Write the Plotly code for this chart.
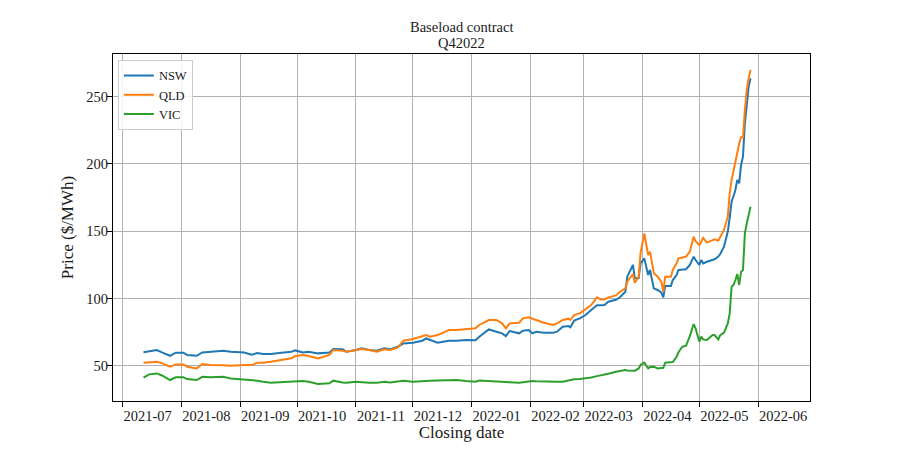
import plotly.graph_objects as go

dates = [
    "2021-07-12", "2021-07-15", "2021-07-19", "2021-07-22", "2021-07-26", "2021-07-29",
    "2021-08-02", "2021-08-04", "2021-08-09", "2021-08-12", "2021-08-16", "2021-08-23", "2021-08-27",
    "2021-09-03", "2021-09-07", "2021-09-10", "2021-09-13", "2021-09-17", "2021-09-24", "2021-09-28", "2021-09-30",
    "2021-10-04", "2021-10-07", "2021-10-12", "2021-10-18", "2021-10-20", "2021-10-25", "2021-10-27",
    "2021-11-01", "2021-11-04", "2021-11-08", "2021-11-12", "2021-11-16", "2021-11-19", "2021-11-23", "2021-11-26",
    "2021-12-01", "2021-12-06", "2021-12-08", "2021-12-10", "2021-12-14", "2021-12-17", "2021-12-20", "2021-12-24", "2021-12-29",
    "2022-01-03", "2022-01-05", "2022-01-10", "2022-01-14", "2022-01-17", "2022-01-19", "2022-01-21", "2022-01-26", "2022-01-28", "2022-01-31",
    "2022-02-02", "2022-02-04", "2022-02-08", "2022-02-13", "2022-02-15", "2022-02-18", "2022-02-21", "2022-02-22", "2022-02-24", "2022-02-27",
    "2022-03-02", "2022-03-05", "2022-03-08", "2022-03-10", "2022-03-12", "2022-03-14", "2022-03-18", "2022-03-20", "2022-03-23", "2022-03-24",
    "2022-03-27", "2022-03-28", "2022-03-30", "2022-03-31",
    "2022-04-02", "2022-04-04", "2022-04-05", "2022-04-07", "2022-04-09", "2022-04-11", "2022-04-12", "2022-04-13", "2022-04-16", "2022-04-17",
    "2022-04-19", "2022-04-20", "2022-04-22", "2022-04-24", "2022-04-26", "2022-04-28", "2022-04-29",
    "2022-05-01", "2022-05-02", "2022-05-03", "2022-05-05", "2022-05-08", "2022-05-09", "2022-05-11", "2022-05-12", "2022-05-14", "2022-05-16",
    "2022-05-17", "2022-05-18", "2022-05-19", "2022-05-20", "2022-05-21", "2022-05-22", "2022-05-23", "2022-05-24", "2022-05-25", "2022-05-26",
    "2022-05-27", "2022-05-28",
]

nsw = [
    60.0, 60.9, 61.7, 59.7, 57.4, 59.7,
    59.7, 58.0, 57.4, 59.9, 60.4, 61.2, 60.4,
    59.9, 58.2, 59.4, 58.7, 58.7, 59.9, 60.4, 61.4,
    59.9, 60.4, 59.2, 59.9, 62.4, 62.2, 60.4,
    61.7, 62.9, 61.7, 61.2, 62.9, 62.2, 64.1, 66.6,
    67.1, 68.6, 70.3, 69.1, 67.1, 67.9, 68.6, 68.6, 69.1,
    69.0, 71.6, 77.0, 75.3, 74.1, 72.1, 75.8, 74.1, 76.0, 76.5,
    74.1, 75.3, 74.6, 74.6, 75.3, 79.0, 79.5, 78.5, 83.5, 85.2,
    87.7, 91.4, 94.9, 95.0, 95.1, 97.6, 99.0, 100.7, 105.0, 116.2,
    124.9, 115.0, 115.0, 126.1,
    129.8, 117.4, 121.2, 107.5, 106.3, 104.3, 100.8, 109.3, 109.3, 113.7,
    117.4, 121.2, 121.5, 121.7, 124.9, 131.1, 128.6,
    124.9, 128.6, 126.1, 127.3, 128.6, 129.1, 131.1, 133.0, 138.5, 149.7,
    160.0, 172.0, 176.0, 180.6, 188.1, 185.6, 199.2, 205.4, 230.2, 245.1,
    257.5, 263.7,
]

qld = [
    52.3, 52.5, 53.0, 51.8, 49.3, 51.0,
    51.0, 49.3, 48.0, 51.3, 50.5, 50.3, 50.0,
    50.5, 50.5, 52.3, 52.3, 53.0, 54.7, 55.5, 57.2,
    58.0, 57.2, 55.5, 58.0, 61.7, 61.2, 60.4,
    61.7, 62.4, 61.7, 60.4, 62.2, 61.7, 63.4, 68.6,
    69.9, 71.6, 72.8, 71.6, 72.8, 74.6, 76.5, 76.5, 77.0,
    77.8, 80.3, 84.0, 84.0, 81.5, 77.8, 81.5, 82.0, 85.2, 86.0,
    85.0, 84.0, 82.0, 80.3, 81.5, 84.0, 85.0, 84.0, 87.7, 88.9,
    91.9, 95.1, 100.8, 99.3, 99.3, 100.8, 102.3, 104.8, 107.5, 112.5,
    118.2, 111.7, 116.2, 133.5,
    148.4, 132.3, 134.8, 118.7, 116.2, 112.5, 105.0, 116.2, 116.2, 121.2,
    126.1, 129.8, 130.5, 131.1, 134.8, 145.9, 142.5,
    139.7, 142.2, 145.0, 141.5, 143.5, 144.0, 143.0, 145.9, 150.9, 160.8,
    178.2, 188.0, 195.5, 201.7, 210.4, 215.0, 219.8, 219.8, 240.1, 255.0,
    263.7, 269.9,
]

vic = [
    41.1, 43.6, 44.3, 42.6, 39.4, 41.4,
    41.4, 40.1, 39.4, 41.8, 41.4, 41.8, 40.6,
    39.9, 39.4, 38.9, 38.1, 37.4, 37.9, 38.3, 38.6,
    38.6, 38.1, 36.4, 36.9, 38.9, 37.6, 37.4,
    38.1, 37.6, 37.4, 37.4, 38.1, 37.6, 38.1, 38.9,
    38.1, 38.6, 39.1, 38.9, 39.1, 39.1, 39.4, 39.4, 38.6,
    38.1, 39.0, 38.8, 38.6, 38.3, 38.1, 37.8, 37.4, 37.9, 38.3,
    38.6, 38.4, 38.1, 38.1, 38.1, 38.1, 39.0, 39.4, 39.9, 40.2,
    40.6, 41.2, 42.3, 42.7, 43.1, 44.0, 45.6, 46.3, 46.8, 46.5,
    46.3, 46.3, 48.0, 50.5,
    52.3, 48.0, 49.0, 49.3, 48.0, 48.5, 48.5, 52.3, 52.8, 52.8,
    56.7, 60.0, 64.1, 64.9, 72.0, 81.0, 77.8,
    67.9, 71.6, 69.6, 69.1, 72.8, 72.8, 69.6, 72.8, 74.6, 81.5,
    88.9, 108.8, 110.0, 113.7, 118.2, 110.0, 119.9, 121.2, 148.4, 155.8,
    162.0, 168.2,
]

title_lines = ["Baseload contract", "Q42022"]

series = [("NSW", nsw, "#1f77b4"), ("QLD", qld, "#ff7f0e"), ("VIC", vic, "#2ca02c")]

FONT = "Liberation Serif"
TXT = "#1a1a1a"

fig = go.Figure()
for name, vals, color in series:
    fig.add_trace(go.Scatter(x=dates, y=vals, mode="lines", name=name,
                             line=dict(color=color, width=2)))

# page body has an 8px margin, so the figure is 884x434 and offset accordingly
fig.update_layout(
    width=884, height=434,
    margin=dict(l=105, r=82, t=46, b=41),
    paper_bgcolor="white", plot_bgcolor="white",
    font=dict(family=FONT, size=14.5, color=TXT),
    showlegend=True,
    legend=dict(x=0.007, y=0.983, xanchor="left", yanchor="top",
                bgcolor="rgba(255,255,255,0.85)", bordercolor="#cccccc", borderwidth=1,
                font=dict(family=FONT, size=12.5, color=TXT)),
)
for txt, ypos in zip(title_lines, [1.0778, 1.0317]):
    fig.add_annotation(text=txt, x=0.5, y=ypos, xref="paper", yref="paper",
                       xanchor="center", yanchor="middle", showarrow=False,
                       font=dict(family=FONT, size=14.5, color=TXT))

fig.update_xaxes(
    type="date", automargin=False,
    range=["2021-06-25 22:00", "2022-06-28 08:00"],
    tick0="2021-07-01", dtick="M1", tickformat="%Y-%m",
    ticks="outside", ticklen=5, tickcolor="black",
    ticklabelshift=25, ticklabelstandoff=-3,
    showgrid=True, gridcolor="#b0b0b0", gridwidth=1,
    showline=True, linecolor="black", linewidth=1, mirror=True,
    zeroline=False,
    title=dict(text="Closing date", standoff=0),
)
fig.update_yaxes(
    automargin=False,
    range=[23.8, 281.7],
    tick0=0, dtick=50,
    ticks="outside", ticklen=5, tickcolor="black",
    ticklabelstandoff=-4,
    showgrid=True, gridcolor="#b0b0b0", gridwidth=1,
    showline=True, linecolor="black", linewidth=1, mirror=True,
    zeroline=False,
    title=dict(text="Price ($/MWh)", standoff=8),
)

fig.write_html("out.html")
